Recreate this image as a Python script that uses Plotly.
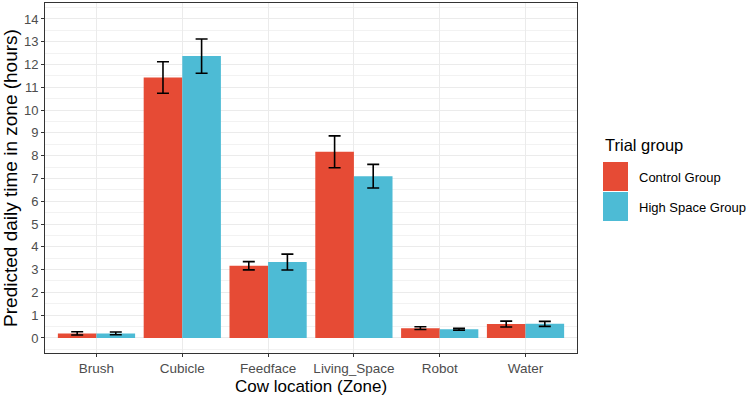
import plotly.graph_objects as go

zones = ["Brush", "Cubicle", "Feedface", "Living_Space", "Robot", "Water"]
control = [0.20, 11.43, 3.17, 8.17, 0.43, 0.61]
control_err = [0.07, 0.69, 0.18, 0.70, 0.06, 0.13]
high_space = [0.20, 12.37, 3.33, 7.10, 0.38, 0.62]
high_space_err = [0.06, 0.75, 0.35, 0.52, 0.04, 0.11]
groups = ["Control Group", "High Space Group"]
colors = ["#E64B35", "#4DBBD5"]

W, H = 749, 404
L, R, T, B = 45, 172, 3, 51

def px(x):
    return (x - L) / (W - L - R)

def py(y):
    return (H - B - y) / (H - T - B)

fig = go.Figure()
for name, vals, errs, col in zip(groups, [control, high_space], [control_err, high_space_err], colors):
    fig.add_trace(go.Bar(
        x=zones, y=vals, name=name, marker_color=col, marker_line_width=0,
        error_y=dict(type="data", array=errs, color="black", thickness=1.6, width=6),
        showlegend=False,
    ))

# legend drawn by hand (ggplot style keys)
fig.add_annotation(x=px(603), y=py(145), xref="paper", yref="paper", text="Trial group",
                   showarrow=False, xanchor="left", yanchor="middle",
                   font=dict(size=16.5, color="black"))
for i, (name, col) in enumerate(zip(groups, colors)):
    top = 162 + i * 30
    fig.add_shape(type="rect", xref="paper", yref="paper",
                  x0=px(603), x1=px(628), y0=py(top), y1=py(top + 29),
                  fillcolor=col, line_width=0)
    fig.add_annotation(x=px(637), y=py(top + 15), xref="paper", yref="paper", text=name,
                       showarrow=False, xanchor="left", yanchor="middle",
                       font=dict(size=13, color="black"))

fig.update_layout(
    width=W, height=H,
    margin=dict(l=L, r=R, t=T, b=B),
    paper_bgcolor="white", plot_bgcolor="white",
    barmode="group", bargap=0.1, bargroupgap=0,
    font=dict(family="Liberation Sans, Arial, sans-serif"),
)
fig.update_xaxes(
    range=[-0.6, 5.6], showgrid=True, gridcolor="#EBEBEB", gridwidth=1,
    showline=True, mirror=True, linecolor="#333333", linewidth=1,
    ticks="outside", ticklen=3, tickcolor="#333333",
    tickfont=dict(size=13.5, color="#4D4D4D"),
    title=dict(text="Cow location (Zone)", font=dict(size=17, color="black"), standoff=4),
    zeroline=False,
)
fig.update_yaxes(
    range=[-0.66, 14.7], tickmode="linear", tick0=0, dtick=1,
    showgrid=True, gridcolor="#EBEBEB", gridwidth=1,
    minor=dict(tick0=0.5, dtick=1, showgrid=True, gridcolor="#F2F2F2", gridwidth=1),
    showline=True, mirror=True, linecolor="#333333", linewidth=1,
    ticks="outside", ticklen=3, tickcolor="#333333",
    tickfont=dict(size=13, color="#4D4D4D"),
    title=dict(text="Predicted daily time in zone (hours)", font=dict(size=19, color="black"), standoff=5),
    zeroline=False,
)

# page body has an 8px default margin; drop it so the figure sits at the corner
fig.write_html("out.html", config={"displayModeBar": False},
               post_script="document.body.style.margin='0';")
